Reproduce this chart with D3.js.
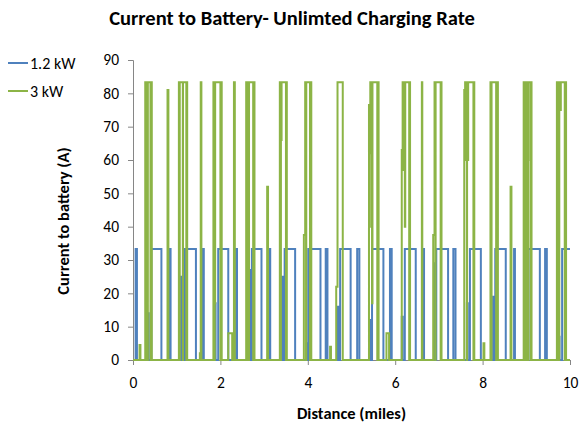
<!DOCTYPE html>
<html>
<head>
<meta charset="utf-8">
<script src="https://cdn.jsdelivr.net/npm/d3@7"></script>
<style>
  body { margin: 0; background: #fff; }
  text { font-family: Calibri, Carlito, "Liberation Sans", Arial, sans-serif; }
</style>
</head>
<body>
<div id="chart"></div>
<script>
// chart text
const chartTitle = "Current to Battery- Unlimted Charging Rate";
const xTitle = "Distance (miles)";
const yTitle = "Current to battery (A)";
const seriesNames = ["1.2 kW", "3 kW"];
const xTicks = [0, 2, 4, 6, 8, 10];
const yTicks = [0, 10, 20, 30, 40, 50, 60, 70, 80, 90];

// [distance (miles), current (A)] - value holds until the next point
const current12kW = [
    [0, 0], [0.06, 33.3], [0.09, 0], [0.34, 14], [0.36, 0], [0.42, 33.3], [0.65, 0],
    [0.84, 33.3], [0.86, 0], [1.10, 25], [1.12, 0], [1.19, 33.3], [1.44, 0],
    [1.60, 33.3], [1.62, 0], [1.87, 17], [1.89, 0], [1.95, 33.3], [2.18, 0],
    [2.36, 33.3], [2.38, 0], [2.63, 14], [2.65, 0], [2.67, 27], [2.69, 0], [2.72, 33.3], [2.94, 0],
    [3.12, 33.3], [3.14, 0], [3.41, 25], [3.43, 0], [3.47, 33.3], [3.71, 0],
    [3.97, 5], [3.99, 0], [4.01, 33.3], [4.29, 0], [4.41, 33.3], [4.45, 0],
    [4.69, 16], [4.71, 0], [4.74, 33.3], [4.98, 0], [5.13, 33.3], [5.18, 0],
    [5.42, 12], [5.44, 0], [5.47, 33.3], [5.73, 0], [5.88, 33.3], [5.92, 0],
    [6.15, 13], [6.17, 0], [6.22, 33.3], [6.47, 0], [6.64, 33.3], [6.66, 0],
    [6.89, 29], [6.91, 0], [6.94, 33.3], [7.21, 0], [7.33, 33.3], [7.38, 0],
    [7.64, 17], [7.66, 0], [7.71, 33.3], [7.96, 0], [8.24, 19], [8.26, 0], [8.29, 33.3], [8.53, 0],
    [8.72, 33.3], [8.74, 0], [9.00, 5], [9.02, 0], [9.05, 33.3], [9.31, 0],
    [9.43, 33.3], [9.47, 0], [9.74, 7], [9.76, 0], [9.82, 33.3], [10, 33.3]
];

const current3kW = [
    [0, 0], [0.15, 4.5], [0.17, 0], [0.28, 83.3], [0.30, 0], [0.31, 83.3], [0.33, 0],
    [0.34, 83.3], [0.40, 0], [0.41, 83.3], [0.43, 0], [0.79, 81], [0.81, 0],
    [1.05, 83.3], [1.065, 0], [1.07, 83.3], [1.14, 0], [1.145, 83.3], [1.22, 0], [1.225, 83.3], [1.24, 0],
    [1.53, 2], [1.545, 0], [1.55, 83.3], [1.565, 0],
    [1.84, 83.3], [1.86, 0], [1.87, 17], [1.88, 83.3], [2.00, 0], [2.005, 83.3], [2.03, 0],
    [2.18, 8], [2.27, 0], [2.31, 83.3], [2.33, 0],
    [2.59, 83.3], [2.61, 0], [2.615, 24], [2.63, 83.3], [2.65, 0], [2.655, 83.3], [2.75, 0], [2.755, 83.3], [2.78, 0],
    [3.07, 52], [3.09, 0],
    [3.36, 83.3], [3.38, 0], [3.385, 66], [3.40, 83.3], [3.50, 0], [3.505, 83.3], [3.52, 0],
    [3.91, 37.5], [3.94, 83.3], [3.96, 0], [3.965, 83.3], [4.05, 0], [4.055, 83.3], [4.08, 0],
    [4.51, 4], [4.53, 0], [4.65, 22], [4.68, 83.3], [4.80, 0],
    [5.40, 76.5], [5.42, 62], [5.43, 83.3], [5.45, 40], [5.46, 83.3], [5.47, 17], [5.48, 83.3],
    [5.59, 0], [5.595, 83.3], [5.62, 0], [5.80, 8], [5.86, 0],
    [6.15, 63], [6.17, 83.3], [6.19, 57], [6.20, 83.3], [6.22, 40], [6.23, 83.3], [6.32, 0], [6.325, 83.3], [6.34, 0],
    [6.61, 83.3], [6.62, 0],
    [6.87, 37.5], [6.90, 83.3], [6.92, 0], [6.925, 83.3], [7.04, 0], [7.045, 83.3], [7.06, 0],
    [7.58, 81], [7.60, 83.3], [7.61, 60], [7.62, 83.3], [7.64, 0], [7.645, 83.3], [7.66, 60], [7.67, 83.3],
    [7.79, 0], [7.795, 83.3], [7.81, 0], [8.02, 5], [8.04, 0],
    [8.18, 83.3], [8.20, 0], [8.205, 83.3], [8.31, 0], [8.315, 83.3], [8.35, 0],
    [8.64, 52], [8.66, 0],
    [8.94, 83.3], [8.96, 0], [8.965, 83.3], [8.99, 0], [8.995, 83.3], [9.04, 0], [9.045, 60], [9.05, 83.3],
    [9.10, 0], [9.105, 83.3], [9.12, 0],
    [9.70, 83.3], [9.72, 0], [9.725, 83.3], [9.75, 0], [9.755, 83.3], [9.78, 75], [9.79, 83.3],
    [9.88, 0], [9.885, 83.3], [9.91, 0], [10, 0]
];

const seriesData = [current12kW, current3kW];
const seriesColours = ["#4f81bd", "#8cb446"];

const width = 579, height = 424;
const margin = { top: 60, right: 9, bottom: 64, left: 133 };
const innerW = width - margin.left - margin.right;
const innerH = height - margin.top - margin.bottom;
const fontStack = 'Calibri, Carlito, "Liberation Sans", Arial, sans-serif';

const svg = d3.select("#chart").append("svg")
    .attr("width", width)
    .attr("height", height);

// title
svg.append("text")
    .attr("x", 292)
    .attr("y", 25)
    .attr("text-anchor", "middle")
    .attr("font-size", 20.5)
    .attr("font-weight", "bold")
    .text(chartTitle);

const g = svg.append("g")
    .attr("transform", `translate(${margin.left}, ${margin.top})`);

const x = d3.scaleLinear().domain([0, 10]).range([0, innerW]);
const y = d3.scaleLinear().domain([0, 90]).range([innerH, 0]);

// axes
const gx = g.append("g")
    .attr("transform", `translate(0, ${innerH})`)
    .call(d3.axisBottom(x).tickValues(xTicks).tickSize(5).tickPadding(12));
const gy = g.append("g")
    .call(d3.axisLeft(y).tickValues(yTicks).tickSize(5).tickPadding(9));

[gx, gy].forEach(a => {
    a.selectAll("path, line").attr("stroke", "#868686");
    a.selectAll("text").attr("font-size", 15.5).attr("fill", "#000")
        .style("font-family", fontStack);
});

// axis titles
svg.append("text")
    .attr("x", margin.left + innerW / 2)
    .attr("y", 419)
    .attr("text-anchor", "middle")
    .attr("font-size", 16.5)
    .attr("font-weight", "bold")
    .text(xTitle);

svg.append("text")
    .attr("transform", `translate(69, 221) rotate(-90)`)
    .attr("text-anchor", "middle")
    .attr("font-size", 16.5)
    .attr("font-weight", "bold")
    .text(yTitle);

// series lines, 3 kW drawn last so it sits on top
const line = d3.line()
    .x(d => x(d[0]))
    .y(d => y(d[1]))
    .curve(d3.curveStepAfter);

g.append("g").selectAll("path")
    .data(seriesData)
    .enter()
    .append("path")
        .attr("d", d => line(d))
        .attr("fill", "none")
        .attr("stroke", (_, i) => seriesColours[i])
        .attr("stroke-width", 2);

// legend on the left
const legend = svg.append("g")
    .selectAll("g")
    .data(seriesNames)
    .enter()
    .append("g")
        .attr("transform", (_, i) => `translate(8, ${63 + i * 28})`);

legend.append("line")
    .attr("x1", 0).attr("x2", 20)
    .attr("stroke", (_, i) => seriesColours[i])
    .attr("stroke-width", 2);
legend.append("text")
    .attr("x", 22)
    .attr("dy", "0.35em")
    .attr("font-size", 16)
    .text(d => d);
</script>
</body>
</html>
